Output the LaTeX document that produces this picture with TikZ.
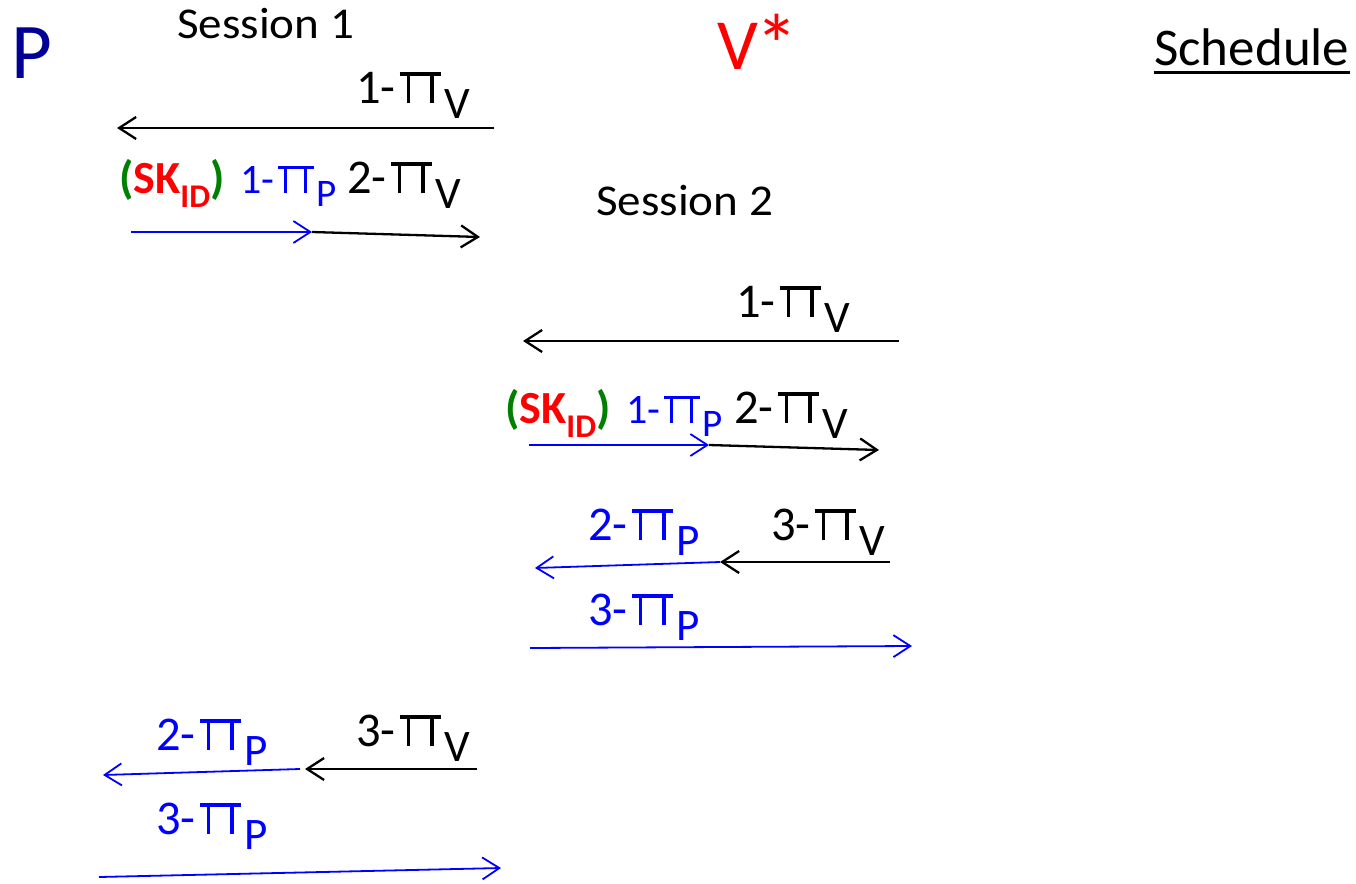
\documentclass[tikz,border=0pt]{standalone}
\usepackage{fontspec}
\setmainfont{Carlito}
\usetikzlibrary{arrows.meta}
\definecolor{pblue}{RGB}{0,0,150}
\definecolor{mblue}{RGB}{0,0,255}
\definecolor{mgreen}{RGB}{0,128,0}
\definecolor{mred}{RGB}{255,0,0}
% thin Pi with overhanging top bar
\newcommand\myPi{\kern0.08em\rlap{\rule[0.565em]{0.86em}{0.068em}}\kern0.15em\rule{0.072em}{0.633em}\kern0.415em\rule{0.072em}{0.633em}\kern0.15em\kern0.06em}
\newcommand\mysub[1]{\raisebox{-0.32em}{\scalebox{0.93}{#1}}}
\newcommand\msg[2]{#1-\myPi\mysub{#2}}
\newcommand\skid{\bfseries{\color{mgreen}(}{\color{mred}SK\raisebox{-0.32em}{\scalebox{0.72}{ID}}}{\color{mgreen})}}
\begin{document}
\begin{tikzpicture}[x=1pt,y=1pt,
  lbl/.style={inner sep=0pt, anchor=base west, font=\fontsize{48.5}{50}\selectfont},
  slbl/.style={inner sep=0pt, anchor=base west, font=\fontsize{42}{44}\selectfont},
  ttl/.style={inner sep=0pt, anchor=base west, font=\fontsize{44}{46}\selectfont},
  msgk/.style={draw=black, line width=2.3pt, -{Straight Barb[length=17pt,width=22pt]}},
  msgb/.style={draw=mblue, line width=1.8pt, -{Straight Barb[length=17pt,width=22pt]}}]
\useasboundingbox (0,0) rectangle (1356,-883);

% headers
\node[lbl, font=\fontsize{79}{80}\selectfont, text=pblue] (P) at (11,-78) {P};
\node[lbl, font=\fontsize{72}{72}\selectfont, text=mred] (V) at (717,-70) {V\kern-0.03em\raisebox{-0.07em}{\scalebox{1.2}{*}}};
\node[lbl, font=\fontsize{53}{54}\selectfont] (sch) at (1154,-65) {Schedule};
\draw[line width=3.5pt] ([yshift=-7.5pt]sch.base west) -- ([yshift=-7.5pt]sch.base east);
\node[ttl] (s1) at (177,-38) {\scalebox{1.07}[1]{Session 1}};
\node[ttl] (s2) at (596,-215) {\scalebox{1.07}[1]{Session 2}};

% session 1, round 1
\node[lbl] (a1) at (356,-103) {\msg{1}{V}};
\coordinate (a1s) at (494,-128); \coordinate (a1e) at (117,-128);
\draw[msgk] (a1s) -- (a1e);

% session 1, round 2
\node[lbl, font=\fontsize{46}{48}\selectfont] (k1) at (119,-193) {\skid};
\node[slbl, text=mblue] (b1) at (240,-193) {\msg{1}{P}};
\node[lbl] (c1) at (347,-193) {\msg{2}{V}};
\coordinate (b1s) at (131,-232); \coordinate (b1e) at (312,-232);
\coordinate (c1e) at (480,-237);
\draw[msgb] (b1s) -- (b1e);
\draw[msgk] (b1e) -- (c1e);

% session 2, round 1
\node[lbl] (a2) at (736,-317) {\msg{1}{V}};
\coordinate (a2s) at (899,-341); \coordinate (a2e) at (523,-341);
\draw[msgk] (a2s) -- (a2e);

% session 2, round 2
\node[lbl, font=\fontsize{46}{48}\selectfont] (k2) at (505,-423) {\skid};
\node[slbl, text=mblue] (b2) at (626,-423) {\msg{1}{P}};
\node[lbl] (c2) at (734,-423) {\msg{2}{V}};
\coordinate (b2s) at (529,-445); \coordinate (b2e) at (709,-445);
\coordinate (c2e) at (879,-450);
\draw[msgb] (b2s) -- (b2e);
\draw[msgk] (b2e) -- (c2e);

% session 2, round 3
\node[lbl, text=mblue] (d2) at (588,-540) {\msg{2}{P}};
\node[lbl] (e2) at (771,-540) {\msg{3}{V}};
\coordinate (e2s) at (890,-562); \coordinate (e2e) at (720,-562);
\coordinate (d2e) at (535,-568);
\draw[msgk] (e2s) -- (e2e);
\draw[msgb] (e2e) -- (d2e);
\node[lbl, text=mblue] (f2) at (588,-625) {\msg{3}{P}};
\coordinate (f2s) at (530,-648); \coordinate (f2e) at (912,-646);
\draw[msgb] (f2s) -- (f2e);

% session 1, round 3
\node[lbl, text=mblue] (d1) at (156,-750) {\msg{2}{P}};
\node[lbl] (e1) at (356,-746) {\msg{3}{V}};
\coordinate (e1s) at (477,-769); \coordinate (e1e) at (305,-769);
\coordinate (d1s) at (300,-769); \coordinate (d1e) at (103,-775);
\draw[msgk] (e1s) -- (e1e);
\draw[msgb] (d1s) -- (d1e);
\node[lbl, text=mblue] (f1) at (156,-834) {\msg{3}{P}};
\coordinate (f1s) at (99,-877); \coordinate (f1e) at (501,-868);
\draw[msgb] (f1s) -- (f1e);
\end{tikzpicture}
\end{document}
